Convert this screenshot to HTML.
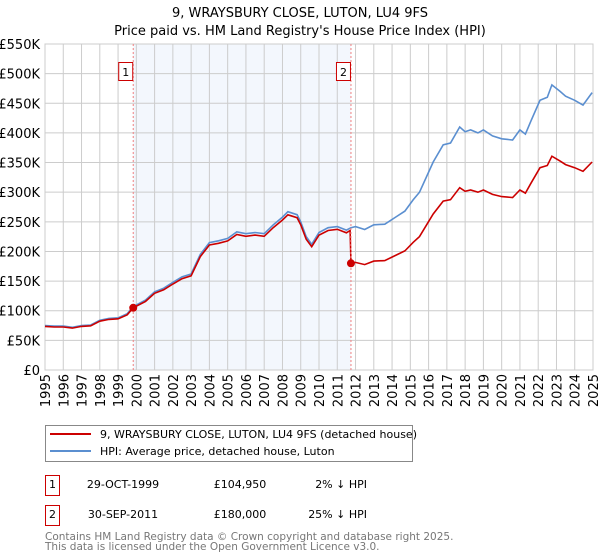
<!DOCTYPE html>
<html><head><meta charset="utf-8"><style>
body{margin:0;background:#fff;font-family:"DejaVu Sans","Liberation Sans",sans-serif;}
svg{display:block}
</style></head><body>
<svg id="chart" width="600" height="560">
<text x="300" y="17" text-anchor="middle" font-size="13">9, WRAYSBURY CLOSE, LUTON, LU4 9FS</text>
<text x="300" y="35" text-anchor="middle" font-size="13">Price paid vs. HM Land Registry's House Price Index (HPI)</text>
<g id="plot"></g>
<g>
<rect x="45.5" y="425.5" width="367" height="36" fill="#fff" stroke="#888"/>
<line x1="50" y1="434" x2="91" y2="434" stroke="#cc0000" stroke-width="2"/>
<text x="100" y="438" font-size="11">9, WRAYSBURY CLOSE, LUTON, LU4 9FS (detached house)</text>
<line x1="50" y1="451" x2="91" y2="451" stroke="#5b8fd0" stroke-width="2"/>
<text x="100" y="455" font-size="11">HPI: Average price, detached house, Luton</text>
</g>
<g font-size="11">
<rect x="45.5" y="475.5" width="14" height="20" fill="#fff" stroke="#cc0000"/>
<text x="52.5" y="488" text-anchor="middle">1</text>
<text x="123" y="488" text-anchor="middle">29-OCT-1999</text>
<text x="240" y="488" text-anchor="middle">£104,950</text>
<text x="367" y="488" text-anchor="end">2% ↓ HPI</text>
<rect x="45.5" y="505.5" width="14" height="20" fill="#fff" stroke="#cc0000"/>
<text x="52.5" y="518" text-anchor="middle">2</text>
<text x="123" y="518" text-anchor="middle">30-SEP-2011</text>
<text x="240" y="518" text-anchor="middle">£180,000</text>
<text x="367" y="518" text-anchor="end">25% ↓ HPI</text>
</g>
<text x="45" y="540" font-size="10.5" fill="#777">Contains HM Land Registry data © Crown copyright and database right 2025.</text>
<text x="45" y="550" font-size="10.5" fill="#777">This data is licensed under the Open Government Licence v3.0.</text>
</svg>
<script>
const hpiYears=[1995,1995.5,1996,1996.5,1997,1997.5,1998,1998.5,1999,1999.5,1999.83,2000.5,2001,2001.5,2002,2002.5,2003,2003.5,2004,2004.5,2005,2005.5,2006,2006.5,2007,2007.5,2008,2008.3,2008.8,2009,2009.3,2009.6,2010,2010.5,2011,2011.5,2011.75,2012,2012.5,2013,2013.6,2014.25,2014.7,2015.15,2015.5,2016.25,2016.8,2017.2,2017.7,2018.0,2018.3,2018.7,2019.0,2019.5,2020.0,2020.6,2021.0,2021.3,2021.6,2022.1,2022.5,2022.75,2023.2,2023.5,2024.0,2024.45,2024.95];
const hpiValues=[75,74,74,72,75,76,84,87,88,95,107,118,132,138,148,157,162,195,215,218,222,233,230,232,230,245,258,267,262,250,225,212,232,240,242,236,240,242,237,245,246,259,268,287,300,351,380,383,410,402,405,400,405,395,390,388,405,398,420,455,460,481,470,462,455,447,468];
const saleYears=[1999.83,2011.75];
const salePrices=[104.95,180];
const saleLabels=["1","2"];
const yTicks=[0,50,100,150,200,250,300,350,400,450,500,550];
const yTickLabels=["£0","£50K","£100K","£150K","£200K","£250K","£300K","£350K","£400K","£450K","£500K","£550K"];
const xTicks=[1995,1996,1997,1998,1999,2000,2001,2002,2003,2004,2005,2006,2007,2008,2009,2010,2011,2012,2013,2014,2015,2016,2017,2018,2019,2020,2021,2022,2023,2024,2025];

const X0=45,X1=593,Y0=370,Y1=44;
const xs=y=>X0+(y-1995)/30*(X1-X0);
const ys=v=>Y0-v/550*(Y0-Y1);
const NS="http://www.w3.org/2000/svg";
const g=document.getElementById('plot');
function mk(t,a){const e=document.createElementNS(NS,t);for(const k in a)e.setAttribute(k,a[k]);g.appendChild(e);return e;}
function hpiAt(y){for(let i=1;i<hpiYears.length;i++){if(y<=hpiYears[i]){const t=(y-hpiYears[i-1])/(hpiYears[i]-hpiYears[i-1]);return hpiValues[i-1]+t*(hpiValues[i]-hpiValues[i-1]);}}return hpiValues[hpiValues.length-1];}

const shade=mk('rect',{x:xs(saleYears[0]),y:Y1,width:xs(saleYears[1])-xs(saleYears[0]),height:Y0-Y1,fill:'#eef3fc',opacity:'0.7'});


yTicks.forEach((v,i)=>{
 const l=mk('line',{x1:X0,x2:X1,y1:ys(v),y2:ys(v),stroke:'#ccc','stroke-width':1});
 
 
 const t=mk('text',{x:X0-5,y:ys(v)+5,'text-anchor':'end','font-size':13});
 
 
 t.textContent=yTickLabels[i];
});
xTicks.forEach(y=>{
 const l=mk('line',{x1:xs(y),x2:xs(y),y1:Y1,y2:Y0,stroke:'#ccc','stroke-width':1});
 
 
 const t=mk('text',{x:0,y:0,'text-anchor':'end','font-size':13,transform:`translate(${xs(y)+5},${Y0+4}) rotate(-90)`});
 
 
 t.textContent=y;
});
const fr=mk('rect',{x:X0,y:Y1,width:X1-X0,height:Y0-Y1,fill:'none',stroke:'#ccc'});



// HPI line
const hp=mk('path',{d:hpiValues.map((v,i)=>(i?'L':'M')+xs(hpiYears[i]).toFixed(1)+','+ys(v).toFixed(1)).join(''),fill:'none',stroke:'#5b8fd0','stroke-width':1.6});



// property line: sale price indexed by HPI
let d='';
hpiYears.forEach((y,i)=>{
 let k=0; for(let s=0;s<saleYears.length;s++) if(y>=saleYears[s]) k=s;
 const r=salePrices[k]/hpiAt(saleYears[k]);
 if(i>0 && k>0 && hpiYears[i-1]<saleYears[k]){
  const rp=salePrices[k-1]/hpiAt(saleYears[k-1]);
  d+='L'+xs(saleYears[k]-0.05).toFixed(1)+','+ys(hpiAt(saleYears[k])*rp).toFixed(1);
  d+='L'+xs(saleYears[k]).toFixed(1)+','+ys(salePrices[k]).toFixed(1);
 }
 d+=(i?'L':'M')+xs(y).toFixed(1)+','+ys(hpiValues[i]*r).toFixed(1);
});
const pp=mk('path',{d,fill:'none',stroke:'#cc0000','stroke-width':1.6});



saleYears.forEach((y,i)=>{
 const l=mk('line',{x1:xs(y),x2:xs(y),y1:Y1,y2:Y0,stroke:'#f08080','stroke-dasharray':'2,2'});
 
 
 const b=mk('rect',{x:xs(y)-14.5,y:62.5,width:14,height:18,fill:'#fff',stroke:'#cc0000'});
 
 
 const t=mk('text',{x:xs(y)-7.5,y:76,'text-anchor':'middle','font-size':11});
 
 
 t.textContent=saleLabels[i];
 const c=mk('circle',{cx:xs(y),cy:ys(salePrices[i]),r:4,fill:'#cc0000'});
 
 
});
</script>
</body></html>
